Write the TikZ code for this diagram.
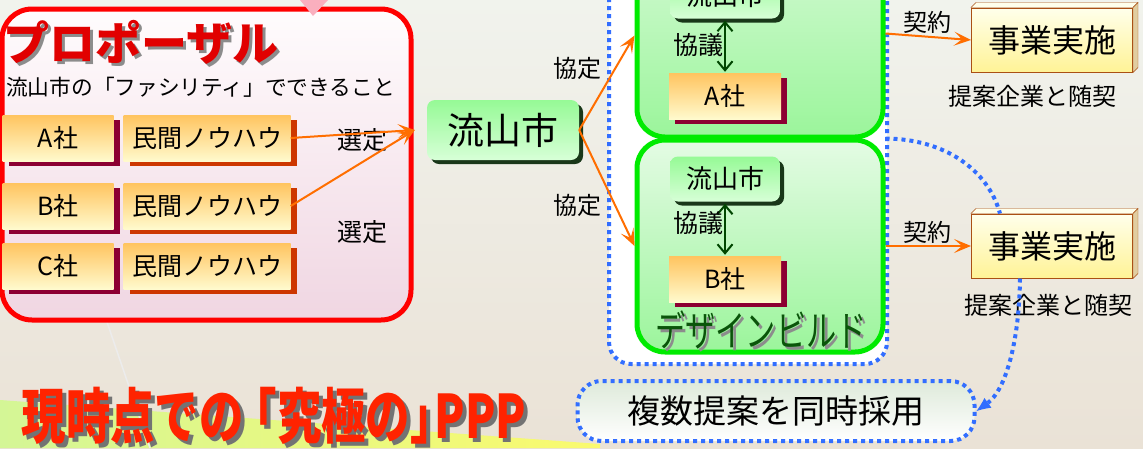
\documentclass[tikz,border=0pt]{standalone}
\usepackage{fontspec}
\setmainfont{Noto Sans CJK JP}
\usetikzlibrary{arrows.meta,shadows,calc}
\newcommand{\jpsize}[1]{\fontsize{#1}{#1}\selectfont}
\definecolor{bgtop}{RGB}{241,243,237}
\definecolor{bgbot}{RGB}{234,226,214}
\definecolor{frred}{RGB}{255,0,0}
\definecolor{pinktop}{RGB}{255,252,253}
\definecolor{pinkbot}{RGB}{240,214,226}
\definecolor{pinktri}{RGB}{250,175,190}
\definecolor{orgtop}{RGB}{255,196,95}
\definecolor{orgbot}{RGB}{255,250,205}
\definecolor{coshadow}{RGB}{140,0,50}
\definecolor{rustshadow}{RGB}{205,55,0}
\definecolor{orgline}{RGB}{255,110,0}
\definecolor{citytop}{RGB}{150,250,150}
\definecolor{citybot}{RGB}{215,255,215}
\definecolor{cityshadow}{RGB}{25,55,25}
\definecolor{dbgreen}{RGB}{0,235,0}
\definecolor{dbtop}{RGB}{228,251,228}
\definecolor{dbbot}{RGB}{155,245,155}
\definecolor{argreen}{RGB}{0,70,0}
\definecolor{dbtext}{RGB}{10,85,10}
\definecolor{dotblue}{RGB}{50,110,255}
\definecolor{bubtop}{RGB}{222,234,218}
\definecolor{jobtop}{RGB}{255,255,235}
\definecolor{jobbot}{RGB}{255,243,150}
\definecolor{jobedge}{RGB}{170,80,20}
\definecolor{jobside}{RGB}{225,205,160}
\definecolor{ptred}{RGB}{225,0,0}
\definecolor{ppred}{RGB}{255,35,0}
\definecolor{wedgel}{RGB}{212,246,150}
\definecolor{wedger}{RGB}{250,250,110}
\begin{document}
\begin{tikzpicture}[x=1pt,y=-1pt,
	co/.style={top color=orgtop,bottom color=orgbot,inner sep=0pt,minimum width=111pt,minimum height=46pt,
		font=\jpsize{25},general shadow={fill=coshadow,shadow xshift=6pt,shadow yshift=-5pt}},
	knowhow/.style={co,minimum width=167pt,general shadow={fill=rustshadow,shadow xshift=6pt,shadow yshift=-5pt}},
	city/.style={top color=citytop,bottom color=citybot,rounded corners=8pt,inner sep=0pt,
		general shadow={fill=cityshadow,shadow xshift=4pt,shadow yshift=-4pt}},
	dbframe/.style={draw=dbgreen,line width=5pt,rounded corners=28pt,minimum width=246pt,inner sep=0pt},
	job/.style={draw=jobedge,line width=1pt,top color=jobtop,bottom color=jobbot,minimum width=161pt,
		minimum height=64pt,inner sep=0pt,font=\jpsize{32}},
	bluedot/.style={draw=dotblue,line width=4pt,dash pattern=on 4pt off 4pt},
	oarr/.style={draw=orgline,line width=2pt,-{Stealth[length=17pt,width=14pt,inset=8pt]}},
	garr/.style={draw=argreen,line width=2pt,{Straight Barb[length=9pt,width=15pt]}-{Straight Barb[length=9pt,width=15pt]}},
	lbl/.style={font=\jpsize{24},inner sep=0pt}]
	\useasboundingbox (0,0) rectangle (1143,448);
	\clip (0,0) rectangle (1143,448);
	% hintergrund
	\shade[top color=bgtop,bottom color=bgbot] (0,0) rectangle (1143,448);
	\shade[left color=wedgel,right color=wedger] (0,400) -- (600,444) -- (600,448) -- (0,448) -- cycle;
	\draw[white!85!gray,line width=1.5pt] (107,322) -- (150,448);
	%
	% proposal
	\draw[frred,line width=5pt,top color=pinktop,bottom color=pinkbot,rounded corners=30pt] (2,9) rectangle (411,320);
	\fill[pinktri] (300,0) -- (328,0) -- (313,16) -- cycle;
	\node[font=\bfseries\jpsize{46},text=black!45,inner sep=0pt] (propshadow) at (144,45) {プロポーザル};
	\node[font=\bfseries\jpsize{46},text=ptred,inner sep=0pt] (prop) at (141,42) {プロポーザル};
	\node[font=\jpsize{21.7},anchor=west,inner sep=0pt] (facility) at (6,87) {流山市の「ファシリティ」でできること};
	\foreach \nm/\yy in {A/138,B/206,C/266} {
		\node[co] (co\nm) at (58,\yy) {\nm 社};
		\node[knowhow] (min\nm) at (207,\yy) {民間ノウハウ};
	}
	\node[lbl,font=\jpsize{25}] (senteiA) at (362,140) {選定};
	\node[lbl,font=\jpsize{25}] (senteiB) at (362,232) {選定};
	%
	% stadt
	\node[city,minimum width=152pt,minimum height=60pt,font=\jpsize{37}] (city) at (503,130) {流山市};
	\draw[oarr] (minA.east) -- ([xshift=-12pt]city.west);
	\draw[oarr] (minB.east) -- ([xshift=-12pt]city.west);
	%
	% design build
	\draw[bluedot,fill=white,rounded corners=22pt] (609,-40) rectangle (887,364);
	\node[dbframe,minimum height=177pt,top color=dbtop!70!dbbot,bottom color=dbbot] (dbA) at (760,48.5) {};
	\node[dbframe,minimum height=212pt,top color=dbtop,bottom color=dbbot] (dbB) at (760,246) {};
	\node[city,minimum width=110pt,minimum height=45pt,font=\jpsize{26}] (cityA) at (725,-4) {流山市};
	\node[co,minimum width=112pt] (coA) at (725,96) {A社};
	\node[city,minimum width=110pt,minimum height=45pt,font=\jpsize{26}] (cityB) at (725,179) {流山市};
	\node[co,minimum width=112pt] (coB) at (725,279) {B社};
	\draw[garr] ([yshift=-2pt]cityA.south) -- ([yshift=1pt]coA.north);
	\draw[garr] ([yshift=-2pt]cityB.south) -- ([yshift=1pt]coB.north);
	\node[lbl,font=\jpsize{25}] (kyogiA) at (698,45) {協議};
	\node[lbl,font=\jpsize{25}] (kyogiB) at (698,223) {協議};
	\node[font=\jpsize{42},xscale=0.72,text=black!45,inner sep=0pt] (dbshadow) at (764,333) {デザインビルド};
	\node[font=\jpsize{42},xscale=0.72,text=dbtext,inner sep=0pt] (dbname) at (761,330) {デザインビルド};
	\draw[oarr] (city.east) -- ([yshift=13pt]dbA.west);
	\draw[oarr] (city.east) -- (dbB.west);
	\node[lbl] (kyoteiA) at (577,68) {協定};
	\node[lbl] (kyoteiB) at (577,205) {協定};
	%
	% vertrag
	\foreach \nm/\yy in {A/40,B/246} {
		\node[job] (job\nm) at (1052,\yy) {事業実施};
		\draw[jobedge,fill=jobtop] (job\nm.north west) -- ++(5,-5) -- ($(job\nm.north east)+(5,-5)$) -- (job\nm.north east) -- cycle;
		\draw[jobedge,fill=jobside] (job\nm.north east) -- ++(5,-5) -- ($(job\nm.south east)+(5,-5)$) -- (job\nm.south east) -- cycle;
	}
	\draw[oarr] ([yshift=15pt]dbA.east) -- (jobA.west);
	\draw[oarr] (dbB.east) -- (jobB.west);
	\node[lbl] (keiyakuA) at (927,22) {契約};
	\node[lbl] (keiyakuB) at (927,232) {契約};
	\node[lbl] (zuikeiA) at (1032,96) {提案企業と随契};
	\node[lbl] (zuikeiB) at (1048,305) {提案企業と随契};
	%
	% gleichzeitig
	\node[bluedot,rounded corners=24pt,minimum width=397pt,minimum height=60pt,top color=bubtop,
		bottom color=white,font=\jpsize{33},inner sep=0pt] (both) at (776,411) {複数提案を同時採用};
	\coordinate (gap) at ($(dbA.south east)!.5!(dbB.north east)$);
	\draw[bluedot] (gap) .. controls (945,139) and (988,170) .. ([xshift=-52pt]jobB.north);
	\draw[bluedot,-{Latex[length=14pt,width=12pt,line width=0pt]}] ([xshift=-32pt]jobB.south) .. controls (1019,350) and (1003,392) .. (both.east);
	%
	% titel
	\node[font=\bfseries\jpsize{60},xscale=0.74,text=black!55,inner sep=0pt] (ppshadow) at (278,420) {現時点での\hspace{-.25em}「究極の」\hspace{-.45em}PPP};
	\node[font=\bfseries\jpsize{60},xscale=0.74,text=ppred,inner sep=0pt] (pptitle) at (274,416) {現時点での\hspace{-.25em}「究極の」\hspace{-.45em}PPP};
\end{tikzpicture}
\end{document}
